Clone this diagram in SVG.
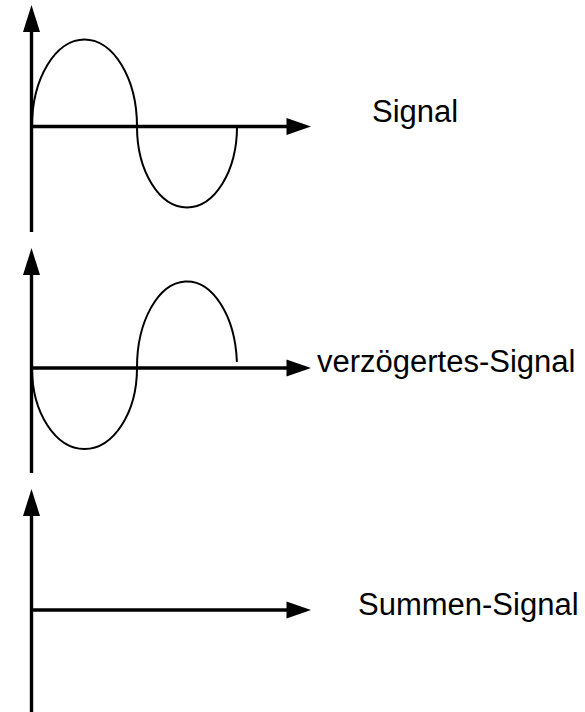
<svg xmlns="http://www.w3.org/2000/svg" width="585" height="712" viewBox="0 0 585 712">
<style>
.axis{stroke:#000;stroke-width:3.4;fill:none}
.wave{stroke:#000;stroke-width:2;fill:none}
.head{fill:#000;stroke:none}
.lbl{font-family:"Liberation Sans",Arial,sans-serif;font-size:31px;fill:#000}
</style>
<rect width="585" height="712" fill="#fff"/>
<g id="panel-signal">
<line class="axis" x1="31.5" y1="232" x2="31.5" y2="30"/>
<polygon class="head" points="31.5,5 23,32 40,32"/>
<line class="axis" x1="31.5" y1="126.5" x2="288" y2="126.5"/>
<polygon class="head" points="311,126.5 286.5,118 286.5,135"/>
<path class="wave" d="M32,126.5 A52.5,87 0 0,1 137,126.5 A50,81 0 0,0 237,126.5"/>
<text class="lbl" x="372" y="122">Signal</text>
</g>
<g id="panel-delayed">
<line class="axis" x1="31.5" y1="473" x2="31.5" y2="273"/>
<polygon class="head" points="31.5,248 23,275 40,275"/>
<line class="axis" x1="31.5" y1="368" x2="288" y2="368"/>
<polygon class="head" points="311,368 286.5,359.5 286.5,376.5"/>
<path class="wave" d="M32,368 A52.5,81 0 0,0 137,368 A50,86 0 0,1 236.9,362"/>
<text class="lbl" x="317" y="372">verzögertes-Signal</text>
</g>
<g id="panel-sum">
<line class="axis" x1="31.5" y1="712" x2="31.5" y2="514"/>
<polygon class="head" points="31.5,489 23,516 40,516"/>
<line class="axis" x1="31.5" y1="610" x2="288" y2="610"/>
<polygon class="head" points="311,610 286.5,601.5 286.5,618.5"/>
<text class="lbl" x="358" y="615">Summen-Signal</text>
</g>
<g id="connectors"></g>
</svg>
